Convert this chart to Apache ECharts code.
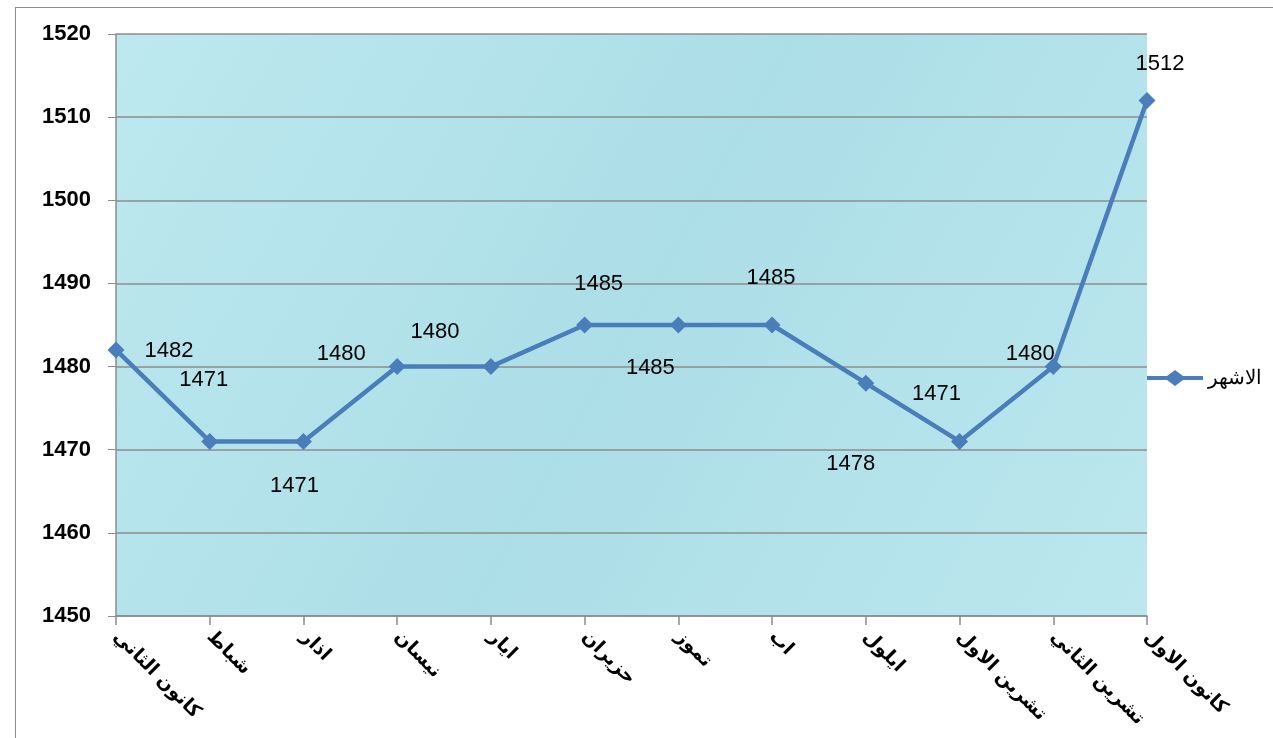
<!DOCTYPE html>
<html><head><meta charset="utf-8">
<script src="https://cdn.jsdelivr.net/npm/echarts@6/dist/echarts.min.js"></script>
<style>html,body{margin:0;padding:0;background:#fff}#c{width:1273px;height:738px}
#frame{position:absolute;left:15px;top:7px;width:1270px;height:740px;border:1px solid #8c8c8c;box-sizing:border-box;pointer-events:none}</style>
</head><body><div id="c"></div><div id="frame"></div>
<script>
const months = ["كانون الثاني","شباط","اذار","نيسان","ايار","حزيران","تموز","اب","ايلول","تشرين الاول","تشرين الثاني","كانون الاول"];
const values = [1482,1471,1471,1480,1480,1485,1485,1485,1478,1471,1480,1512];
const seriesName = "الاشهر";
const labelOffsets = [[53,1],[-6,-61],[-9,45],[-56,-13],[-56,-35],[14,-41],[-28,43],[-1,-47],[-15,81],[-23,-47],[-23,-13],[13,-37]];

const chart = echarts.init(document.getElementById('c'));
chart.setOption({
  animation:false,
  grid:{left:116,right:126,top:34,bottom:122,show:true,borderWidth:0,
    backgroundColor:new echarts.graphic.LinearGradient(0,0,1,1,[
      {offset:0,color:'#bde8ef'},{offset:0.5,color:'#acdee7'},{offset:1,color:'#bce7ee'}])},
  legend:{orient:'vertical',right:6,top:363,itemWidth:56,itemHeight:16,itemGap:6,
    textStyle:{fontSize:20,color:'#000',fontFamily:'Liberation Sans'},
    data:[{name:seriesName,icon:'path://M0,6 L20,6 L28,0 L36,6 L56,6 L56,10 L36,10 L28,16 L20,10 L0,10 Z'}]},
  xAxis:{type:'category',boundaryGap:false,data:months,
    axisLine:{lineStyle:{color:'#8c8c8c',width:1.5}},
    axisTick:{show:true,length:9,lineStyle:{color:'#8c8c8c',width:1.5}},
    axisLabel:{rotate:-45,fontSize:19,fontWeight:'bold',color:'#000',margin:18,fontFamily:'DejaVu Sans',interval:0}},
  yAxis:{type:'value',min:1450,max:1520,interval:10,
    axisLine:{show:true,lineStyle:{color:'#8c8c8c',width:1.5}},
    axisTick:{show:true,length:8,lineStyle:{color:'#8c8c8c'}},
    splitLine:{lineStyle:{color:'#8c8c8c',width:1.5}},
    axisLabel:{fontSize:22,fontWeight:'bold',color:'#000',margin:25,fontFamily:'Liberation Sans',formatter:v=>String(v)}},
  series:[{name:seriesName,type:'line',symbol:'diamond',symbolSize:17,
    lineStyle:{color:'#4a7ebb',width:4.5},itemStyle:{color:'#4a7ebb'},
    data:values.map((v,i)=>({value:v,label:{show:true,position:'inside',offset:labelOffsets[i],
      fontSize:22,color:'#000',fontFamily:'Liberation Sans'}}))}]
});
</script></body></html>
